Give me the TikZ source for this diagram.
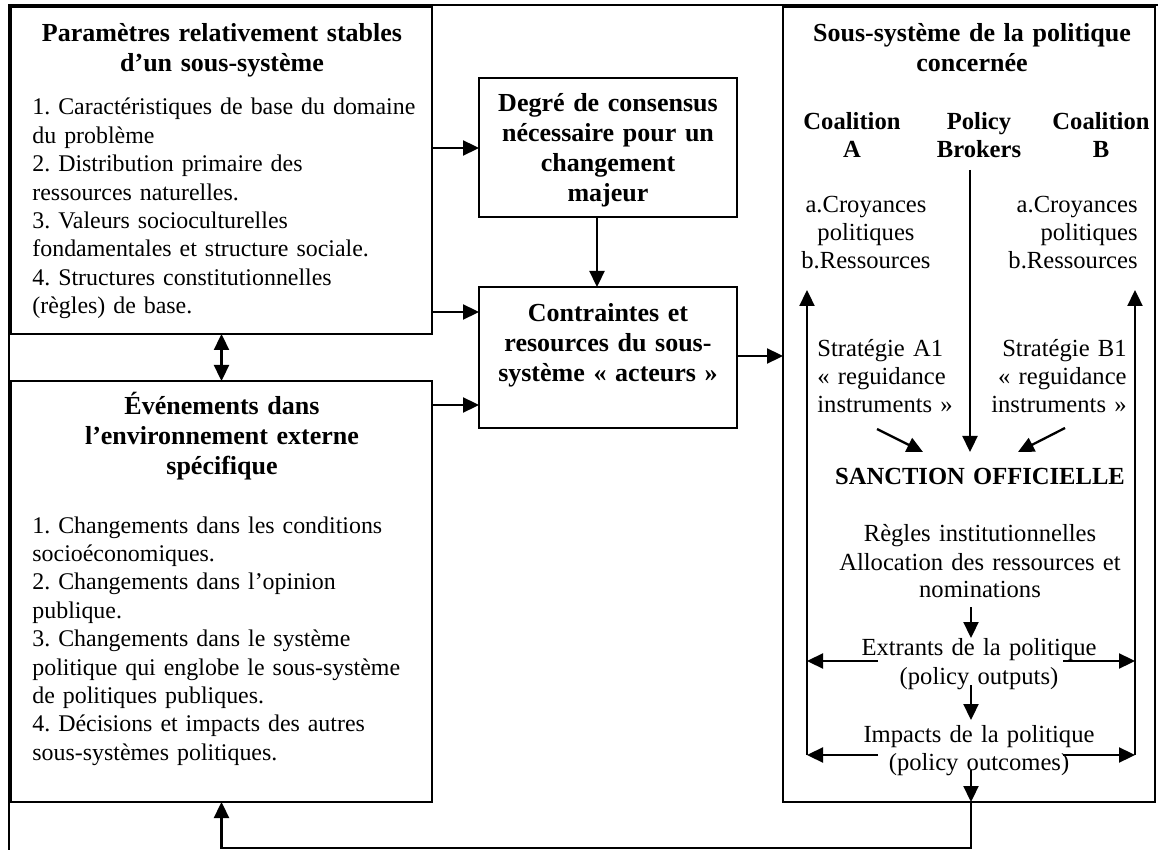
\documentclass[tikz,border=0pt]{standalone}
\usepackage{fontspec}
\setmainfont{Liberation Serif}
\usetikzlibrary{arrows.meta}
\frenchspacing
\begin{document}
\begin{tikzpicture}[x=0.5pt,y=-0.5pt,
  frame/.style={draw, line width=1pt, inner sep=0pt, outer sep=0pt, anchor=north west},
  arr/.style={line width=1.15pt, -{Triangle[length=8pt,width=7.5pt]}},
  dblarr/.style={line width=1.15pt, {Triangle[length=8pt,width=7.5pt]}-{Triangle[length=8pt,width=7.5pt]}},
  head/.style={font=\bfseries\fontsize{13}{15}\selectfont, align=center, inner sep=0pt, text width=#1},
  coal/.style={font=\bfseries\fontsize{12.3}{14}\selectfont, align=center, inner sep=0pt, text width=#1},
  body/.style={font=\fontsize{11.95}{14.2}\selectfont, align=left, inner sep=0pt, text width=#1},
  cbody/.style={font=\fontsize{12.3}{14}\selectfont, align=center, inner sep=0pt, text width=#1},
  rbody/.style={font=\fontsize{12.3}{14}\selectfont, align=right, inner sep=0pt, text width=#1},
]
\useasboundingbox (0,0) rectangle (1158,850);

% outer frame (only its top and left sides fall inside the page)
\draw[line width=1.2pt] (9,860) -- (9,5) -- (1170,5);

% boxes
\node[frame, minimum width=210.5pt, minimum height=163.5pt] (params) at (11,7) {};
\node[frame, minimum width=210.5pt, minimum height=210.5pt] (events) at (11,381) {};
\node[frame, minimum width=129pt, minimum height=69.5pt] (degre) at (479,78) {};
\node[frame, minimum width=129pt, minimum height=70.5pt] (contr) at (479,287) {};
\node[frame, minimum width=186pt, minimum height=397.5pt] (subsys) at (783,7) {};

% stable parameters
\node[head=200pt, anchor=base] (paramsT) at (222,42) {Paramètres relativement stables\\d’un sous-système};
\node[body=205pt, anchor=base west] (paramsB) at (32,115) {1. Caractéristiques de base du domaine\\du problème\\2. Distribution primaire des\\ressources naturelles.\\3. Valeurs socioculturelles\\fondamentales et structure sociale.\\4. Structures constitutionnelles\\(règles) de base.};

% external events
\node[head=200pt, anchor=base] (eventsT) at (222,415) {Événements dans\\l’environnement externe\\spécifique};
\node[body=205pt, anchor=base west] (eventsB) at (32,533) {1. Changements dans les conditions\\socioéconomiques.\\2. Changements dans l’opinion\\publique.\\3. Changements dans le système\\politique qui englobe le sous-système\\de politiques publiques.\\4. Décisions et impacts des autres\\sous-systèmes politiques.};

% middle column
\node[head=125pt, anchor=base, font=\bfseries\fontsize{13}{14.85}\selectfont] (degreT) at (608,112) {Degré de consensus\\nécessaire pour un\\changement\\majeur};
\node[head=125pt, anchor=base] (contrT) at (608,322) {Contraintes et\\resources du sous-\\système « acteurs »};

% policy subsystem
\node[head=180pt, anchor=base] (subsysT) at (972,42) {Sous-système de la politique\\concernée};
\node[coal=60pt, anchor=base] (coalA) at (852,130) {Coalition\\A};
\node[coal=60pt, anchor=base] (brokers) at (979,130) {Policy\\Brokers};
\node[coal=60pt, anchor=base] (coalB) at (1101,130) {Coalition\\B};
\node[cbody=70pt, anchor=base] (beliefA) at (866,213) {a.Croyances\\politiques\\b.Ressources};
\node[rbody=70pt, anchor=base east] (beliefB) at (1138,213) {a.Croyances\\politiques\\b.Ressources};
\node[body=70pt, anchor=base west, font=\fontsize{12.3}{14}\selectfont] (stratA) at (817,357) {Stratégie A1\\« reguidance\\instruments »};
\node[rbody=70pt, anchor=base east] (stratB) at (1127,357) {Stratégie B1\\« reguidance\\instruments »};
\node[coal=170pt, anchor=base] (sanction) at (980,485) {SANCTION OFFICIELLE};
\node[cbody=170pt, anchor=base] (rules) at (980,542) {Règles institutionnelles\\Allocation des ressources et\\nominations};
\node[cbody=170pt, anchor=base, font=\fontsize{12.3}{14.8}\selectfont] (outputs) at (979,655) {Extrants de la politique\\(policy outputs)};
\node[cbody=170pt, anchor=base] (outcomes) at (979,742) {Impacts de la politique\\(policy outcomes)};

% arrow end points inside the subsystem
\coordinate (feedA) at (807,755);
\coordinate (feedB) at (1135,755);
\coordinate (brk) at (970,170);
\coordinate (sancTop) at (970,452);
\coordinate (dA1) at (877,429);
\coordinate (dA2) at (923,452);
\coordinate (dB1) at (1065,428);
\coordinate (dB2) at (1018,452);
\coordinate (r1) at (971,607);
\coordinate (r2) at (971,638);
\coordinate (o1) at (971,685);
\coordinate (o2) at (971,720);
\coordinate (outL) at (878,661);
\coordinate (outR) at (1063,661);
\coordinate (incL) at (878,755);
\coordinate (incR) at (1063,755);
\coordinate (fb) at (971,770);

% connectors between boxes
\draw[arr] (params.east |- 0,148) -- (degre.west |- 0,148);
\draw[arr] (params.east |- 0,312) -- (contr.west |- 0,312);
\draw[arr] (events.east |- 0,405) -- (contr.west |- 0,405);
\draw[arr] (degre.south -| 597,0) -- (contr.north -| 597,0);
\draw[arr] (contr.east |- 0,356) -- (subsys.west |- 0,356);
\draw[dblarr] (params.south) -- (events.north);

% connectors inside the subsystem
\draw[arr] (feedA) -- (807,290);
\draw[arr] (feedB) -- (1135,290);
\draw[arr] (brk) -- (sancTop);
\draw[arr] (dA1) -- (dA2);
\draw[arr] (dB1) -- (dB2);
\draw[arr] (r1) -- (r2);
\draw[arr] (o1) -- (o2);
\draw[arr] (outL) -- (feedA |- outL);
\draw[arr] (outR) -- (feedB |- outR);
\draw[arr] (incL) -- (feedA);
\draw[arr] (incR) -- (feedB);

% feedback loop to the external events
\draw[arr] (fb) -- (subsys.south -| fb);
\draw[arr] (subsys.south -| fb) -- (fb |- 0,848) -| (events.south);
\end{tikzpicture}
\end{document}
